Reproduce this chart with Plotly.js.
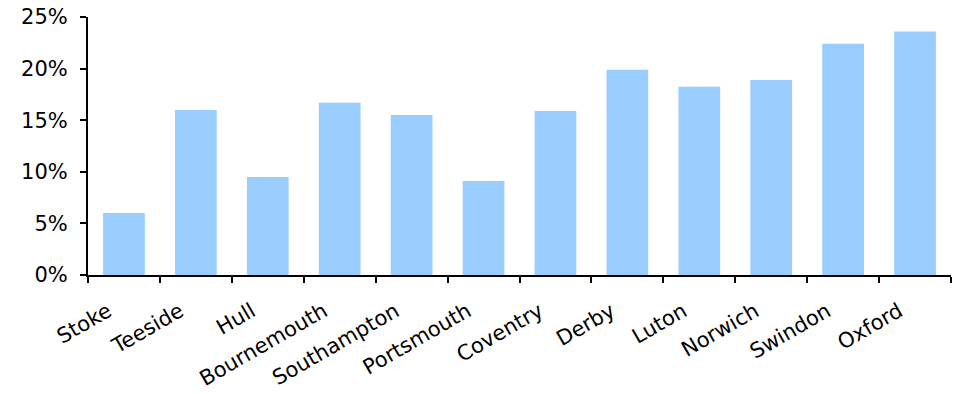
<!DOCTYPE html>
<html>
<head>
<meta charset="utf-8">
<script src="https://cdn.plot.ly/plotly-3.0.1.min.js"></script>
<style>html,body{margin:0;padding:0;background:#fff;}#chart{width:954px;height:394px;}</style>
</head>
<body>
<div id="chart"></div>
<script>
const categories = ["Stoke","Teeside","Hull","Bournemouth","Southampton","Portsmouth","Coventry","Derby","Luton","Norwich","Swindon","Oxford"];
const values = [6.0, 16.0, 9.5, 16.7, 15.5, 9.1, 15.9, 19.9, 18.25, 18.9, 22.4, 23.6];
const yTickValues = [0, 5, 10, 15, 20, 25];

const trace = {
  type: "bar",
  x: categories,
  y: values,
  marker: {color: "#99CCFF", line: {width: 0}},
  hoverinfo: "skip"
};

const layout = {
  width: 954,
  height: 394,
  margin: {l: 88, r: 3, t: 17, b: 119},
  paper_bgcolor: "#fff",
  plot_bgcolor: "#fff",
  bargap: 0.42,
  showlegend: false,
  font: {family: "DejaVu Sans, Verdana, sans-serif", size: 21, color: "#000"},
  xaxis: {
    type: "category",
    range: [-0.5, 11.5],
    tickson: "boundaries",
    ticks: "outside",
    ticklen: 6,
    tickwidth: 2,
    tickcolor: "#000",
    showline: true,
    linecolor: "#000",
    linewidth: 2,
    showgrid: false,
    zeroline: false,
    tickangle: -30,
    tickfont: {size: 21},
    ticklabelstandoff: 14,
    ticklabelshift: -16
  },
  yaxis: {
    range: [0, 25],
    tickvals: yTickValues,
    ticktext: yTickValues.map(v => v + "%"),
    ticks: "outside",
    ticklen: 6,
    tickwidth: 2,
    tickcolor: "#000",
    showline: true,
    linecolor: "#000",
    linewidth: 2,
    showgrid: false,
    zeroline: false,
    tickfont: {size: 21},
    ticklabelstandoff: 8
  }
};

Plotly.newPlot("chart", [trace], layout, {displayModeBar: false, staticPlot: true});
</script>
</body>
</html>
